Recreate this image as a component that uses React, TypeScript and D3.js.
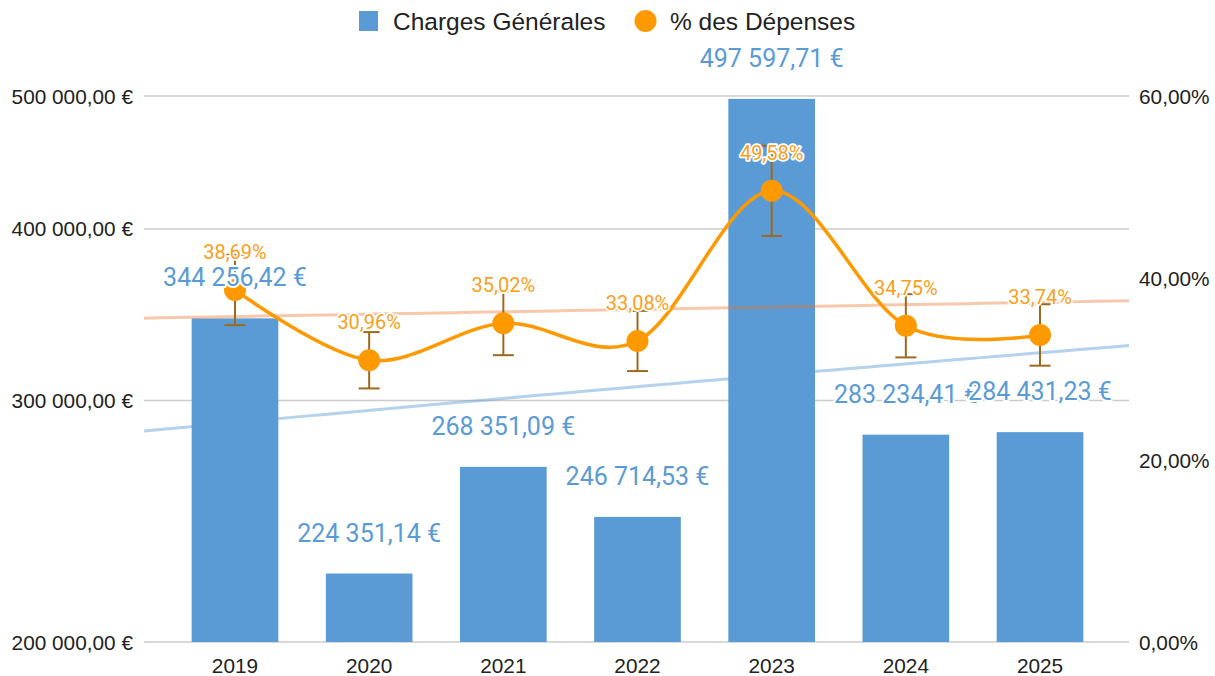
import React from "react";
import * as d3 from "d3";

const years = ["2019", "2020", "2021", "2022", "2023", "2024", "2025"];
const charges = [344256.42, 224351.14, 268351.09, 246714.53, 497597.71, 283234.41, 284431.23];
const chargeLabels = ["344 256,42 €", "224 351,14 €", "268 351,09 €", "246 714,53 €", "497 597,71 €", "283 234,41 €", "284 431,23 €"];
const pcts = [38.69, 30.96, 35.02, 33.08, 49.58, 34.75, 33.74];
const pctLabels = ["38,69%", "30,96%", "35,02%", "33,08%", "49,58%", "34,75%", "33,74%"];
const leftTicks = [200000, 300000, 400000, 500000];
const leftTickLabels = ["200 000,00 €", "300 000,00 €", "400 000,00 €", "500 000,00 €"];
const rightTicks = [0, 20, 40, 60];
const rightTickLabels = ["0,00%", "20,00%", "40,00%", "60,00%"];
const legendItems = ["Charges Générales", "% des Dépenses"];

const W = 1215, H = 676;
const plotLeft = 144, plotRight = 1129, plotTop = 96, plotBottom = 642;
const BLUE = "#5B9BD5";
const ORANGE = "#FF9900";
const ERR = "#9C6A1E";
const AXIS_FONT = "'Liberation Sans', Arial, sans-serif";
const LABEL_FONT = "Roboto, 'Liberation Sans', sans-serif";

function linReg(vals: number[]) {
  const n = vals.length;
  const mx = (n - 1) / 2;
  const my = d3.mean(vals) as number;
  let num = 0, den = 0;
  vals.forEach((v, i) => { num += (i - mx) * (v - my); den += (i - mx) * (i - mx); });
  const slope = num / den;
  return (i: number) => my + slope * (i - mx);
}

export default function App() {
  const x = d3.scaleBand<string>().domain(years).range([167.9, 1107.1]).paddingInner(0.354).paddingOuter(0.177);
  const yL = d3.scaleLog().domain([200000, 500000]).range([plotBottom, plotTop]);
  const yR = d3.scaleLinear().domain([0, 60]).range([plotBottom, plotTop]);
  const cx = (i: number) => (x(years[i]) as number) + x.bandwidth() / 2;
  const xi = d3.scaleLinear().domain([0, 6]).range([cx(0), cx(6)]);

  const regC = linReg(charges);
  const regP = linReg(pcts);
  const iStart = xi.invert(plotLeft);
  const iEnd = xi.invert(plotRight);
  const samples = d3.range(0, 61).map((k) => iStart + (iEnd - iStart) * k / 60);
  const trendC = d3.line<number>().x((i) => xi(i)).y((i) => yL(regC(i)))(samples) as string;
  const trendP = d3.line<number>().x((i) => xi(i)).y((i) => yR(regP(i)))(samples) as string;

  const pctLine = d3.line<number>().x((_, i) => cx(i)).y((v) => yR(v)).curve(d3.curveCardinal.tension(0))(pcts) as string;

  const halo = { stroke: "#fff", strokeWidth: 4, paintOrder: "stroke" as const, strokeLinejoin: "round" as const };

  return (
    <svg width={W} height={H} style={{ position: "absolute", left: 0, top: 0, background: "#fff" }}>
      <rect x={0} y={0} width={W} height={H} fill="#fff" />
      {/* legend */}
      <g fontFamily={AXIS_FONT} fontSize={24.5} fill="#222">
        <rect x={359} y={11} width={19} height={20} fill={BLUE} />
        <text x={393} y={29.5}>{legendItems[0]}</text>
        <circle cx={645.5} cy={21} r={11} fill={ORANGE} />
        <text x={670} y={29.5}>{legendItems[1]}</text>
      </g>
      {/* gridlines */}
      {leftTicks.map((t) => (
        <line key={t} x1={plotLeft} x2={plotRight} y1={yL(t)} y2={yL(t)} stroke="#cccccc" strokeWidth={1.5} />
      ))}
      {/* axis labels */}
      <g fontFamily={AXIS_FONT} fontSize={20.8} fill="#222">
        {leftTicks.map((t, i) => (
          <text key={t} x={133} y={yL(t) + 7.5} textAnchor="end">{leftTickLabels[i]}</text>
        ))}
        {rightTicks.map((t, i) => (
          <text key={t} x={1139} y={yR(t) + 7.5} textAnchor="start">{rightTickLabels[i]}</text>
        ))}
        {years.map((yr, i) => (
          <text key={yr} x={cx(i)} y={672.5} textAnchor="middle">{yr}</text>
        ))}
      </g>
      {/* bars */}
      {charges.map((v, i) => (
        <rect key={i} x={x(years[i])} y={yL(v)} width={x.bandwidth()} height={plotBottom - yL(v)} fill={BLUE} />
      ))}
      {/* trendlines */}
      <path d={trendC} fill="none" stroke={BLUE} strokeOpacity={0.45} strokeWidth={3} />
      <path d={trendP} fill="none" stroke="#EC7530" strokeOpacity={0.4} strokeWidth={3} />
      {/* percent line */}
      <path d={pctLine} fill="none" stroke={ORANGE} strokeWidth={3.5} />
      {/* error bars */}
      {pcts.map((v, i) => {
        const top = yR(v * 1.1), bot = yR(v * 0.9), c = cx(i);
        return (
          <g key={i} stroke={ERR} strokeWidth={2}>
            <line x1={c} x2={c} y1={top} y2={bot} />
            <line x1={c - 10.5} x2={c + 10.5} y1={top} y2={top} />
            <line x1={c - 10.5} x2={c + 10.5} y1={bot} y2={bot} />
          </g>
        );
      })}
      {pcts.map((v, i) => (
        <circle key={i} cx={cx(i)} cy={yR(v)} r={11} fill={ORANGE} />
      ))}
      {/* bar labels */}
      <g fontFamily={LABEL_FONT} fontSize={25} fill={BLUE} textAnchor="middle">
        {charges.map((v, i) => (
          <text key={i} x={cx(i)} y={yL(v) - 32} {...halo}>{chargeLabels[i]}</text>
        ))}
      </g>
      {/* percent labels */}
      <g fontFamily={LABEL_FONT} fontSize={20} fill="#F9A01B" textAnchor="middle">
        {pcts.map((v, i) => (
          <text key={i} x={cx(i)} y={yR(v) - 31} {...halo} strokeWidth={3.5}>{pctLabels[i]}</text>
        ))}
      </g>
    </svg>
  );
}
